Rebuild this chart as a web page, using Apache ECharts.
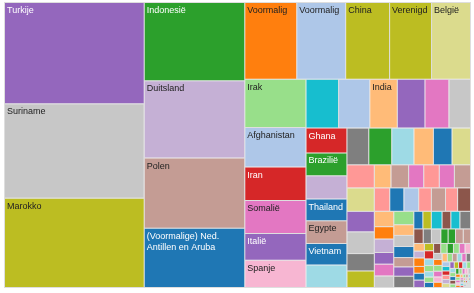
<!DOCTYPE html>
<html>
<head>
<meta charset="utf-8">
<script src="https://cdn.jsdelivr.net/npm/echarts@6/dist/echarts.min.js"></script>
<style>
html,body{margin:0;padding:0;background:#fff;}
#chart{width:474px;height:293px;}
</style>
</head>
<body>
<div id="chart"></div>
<script>
// Named countries (labels as shown) and their sizes, in layout order
const countries = [
  'Turkije','Suriname','Marokko',
  'Indonesië','Duitsland','Polen','(Voormalige) Ned. Antillen en Aruba',
  'Voormalig','Voormalig','China','Verenigd','België',
  'Irak','Afghanistan','Iran','Somalië','Italië','Spanje',
  '','','India','','','',
  'Ghana','Brazilië','','Thailand','Egypte','Vietnam',''
];
const counts = [
  14039, 13066, 12371,
  7800, 7700, 7000, 5900,
  3952, 3724, 3344, 3192, 2964,
  2928, 2403, 2031, 1995, 1623, 1659,
  1576, 1509, 1335, 1335, 1157, 1046,
  1009, 924, 948, 883, 924, 867, 916
];
// Smaller, unlabeled countries
const smallCounts = [
  795, 835, 810, 710, 677, 673,
  628, 639, 554, 592, 472, 450,
  380, 403, 345, 357, 345, 368,
  358, 328, 344, 297, 328, 281, 300,
  295, 237, 259, 224, 226, 222,
  266, 214, 220, 220, 186, 186, 224,
  158, 148, 187, 153, 158, 185,
  136, 118, 136, 105, 107, 112,
  104, 81, 72, 89, 72, 72
];
const tinyCounts = [
  78, 66, 74, 60, 55, 50, 48, 46, 70, 64, 62, 58, 56, 54, 52, 50, 50, 48, 46, 44,
  44, 42, 40, 38, 37, 36, 35, 34, 33, 32, 31, 30, 29, 28, 27, 26, 25, 24, 23, 22,
  21, 20, 19, 18, 17, 16, 15, 14, 13, 12, 11, 10, 10, 9, 9, 8, 8, 7, 7, 6,
  6, 5, 5, 5, 4, 4, 4, 4, 3, 3, 3, 3, 3, 2, 2, 2, 2, 2, 2, 1, 1, 1, 1, 1, 1, 1, 1
];

// Styles
const mainColors = [
  '#9467bd','#c7c7c7','#bcbd22',
  '#2ca02c','#c5b0d5','#c49c94','#1f77b4',
  '#ff7f0e','#aec7e8','#bcbd22','#bcbd22','#dbdb8d',
  '#98df8a','#aec7e8','#d62728','#e377c2','#9467bd','#f7b6d2',
  '#17becf','#aec7e8','#ffbb78','#9467bd','#e377c2','#c7c7c7',
  '#d62728','#2ca02c','#c5b0d5','#1f77b4','#c49c94','#1f77b4','#9edae5'
];
const whiteLabel = ['Turkije','Indonesië','(Voormalige) Ned. Antillen en Aruba','Iran','Italië','Ghana','Brazilië','Thailand','Vietnam'];
const smallColors = [
  '#7f7f7f','#2ca02c','#9edae5','#ffbb78','#1f77b4','#dbdb8d',
  '#ff9896','#dbdb8d','#9467bd','#c7c7c7','#7f7f7f','#bcbd22',
  '#ffbb78','#c49c94','#e377c2','#ff9896','#e377c2','#c49c94',
  '#ff9896','#1f77b4','#aec7e8','#ff9896','#c49c94','#ff9896','#8c564b',
  '#ffbb78','#ff7f0e','#c5b0d5','#9467bd','#e377c2','#c7c7c7',
  '#98df8a','#ffbb78','#c7c7c7','#1f77b4','#c49c94','#9467bd','#7f7f7f',
  '#1f77b4','#bcbd22','#17becf','#8c564b','#17becf','#7f7f7f',
  '#8c564b','#7f7f7f','#c7c7c7','#2ca02c','#2ca02c','#c49c94',
  '#c49c94','#ffbb78','#c5b0d5','#ff7f0e','#ff7f0e','#1f77b4'
];
const tinyPalette = ['#9467bd','#bcbd22','#d62728','#9edae5','#98df8a','#9edae5','#98df8a','#1f77b4',
  '#8c564b','#98df8a','#2ca02c','#98df8a','#e377c2','#f7b6d2','#c7c7c7','#ff7f0e','#98df8a','#e377c2',
  '#f7b6d2','#ff7f0e','#ffbb78','#98df8a','#c49c94','#9edae5','#e377c2','#7f7f7f','#aec7e8','#17becf',
  '#d62728','#ff9896','#c5b0d5','#dbdb8d'];

const data = [];
countries.forEach((n, i) => {
  const item = {name: n, value: counts[i], itemStyle: {color: mainColors[i]}};
  item.label = {color: whiteLabel.includes(n) ? '#fff' : '#222'};
  if (n.length > 20) item.label.overflow = 'break';
  data.push(item);
});
smallCounts.forEach((v, i) => data.push({name: '', value: v, itemStyle: {color: smallColors[i]}}));
tinyCounts.forEach((v, i) => data.push({name: '', value: v, itemStyle: {color: tinyPalette[i % tinyPalette.length]}}));

const chart = echarts.init(document.getElementById('chart'), null, {renderer: 'canvas'});
chart.setOption({
  animation: false,
  series: [{
    type: 'treemap',
    left: 4, top: 2, right: 3, bottom: 5,
    sort: false,
    roam: false,
    nodeClick: false,
    visibleMin: 0,
    breadcrumb: {show: false},
    squareRatio: 0.5 * (1 + Math.sqrt(5)),
    label: {
      show: true,
      position: 'insideTopLeft',
      padding: [2, 2],
      fontSize: 9,
      lineHeight: 11,
      fontFamily: 'Liberation Sans, Arial, sans-serif',
      color: '#222',
      overflow: 'truncate',
      ellipsis: ''
    },
    upperLabel: {show: false},
    levels: [
      {itemStyle: {borderWidth: 1, borderColor: '#dedede', gapWidth: 1}},
      {itemStyle: {borderWidth: 0, gapWidth: 0}}
    ],
    data: data
  }]
});
</script>
</body>
</html>
